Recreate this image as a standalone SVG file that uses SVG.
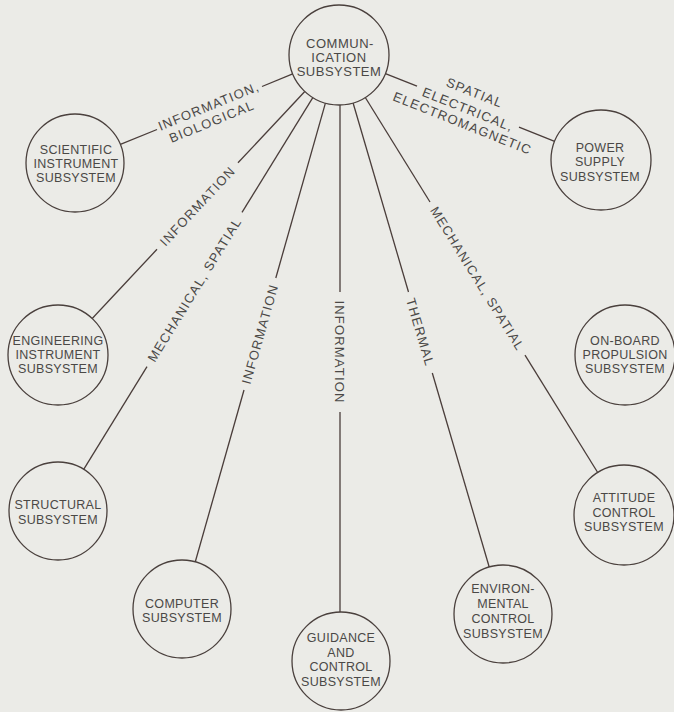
<svg xmlns="http://www.w3.org/2000/svg" width="674" height="712" viewBox="0 0 674 712">
  <style>
    .bg { fill: #ebebe7; }
    .node circle { fill: none; stroke: #4a403d; stroke-width: 1.3; }
    .node text { font-family: "Liberation Sans", Arial, sans-serif; font-size: 12.5px; letter-spacing: 0.3px; fill: #4a4846; text-anchor: middle; }
    #comm text { font-size: 13px; letter-spacing: 0.5px; }
    .conn line { stroke: #4a3d3a; stroke-width: 1.3; }
    .lbl { font-family: "Liberation Sans", Arial, sans-serif; font-size: 13px; letter-spacing: 1.2px; fill: #4a4846; text-anchor: middle; }
  </style>
  <rect class="bg" x="0" y="0" width="674" height="712"/>

  <g id="connectors" class="conn">
    <!-- scientific -->
    <line x1="292.7" y1="73.9" x2="262" y2="86.5"/>
    <line x1="157" y1="129.5" x2="120.4" y2="144.4"/>
    <!-- engineering -->
    <line x1="304.8" y1="91.5" x2="238" y2="162.8"/>
    <line x1="157" y1="249.3" x2="92.2" y2="318.5"/>
    <!-- structural -->
    <line x1="312.8" y1="97.6" x2="242" y2="212.4"/>
    <line x1="147" y1="366.6" x2="83.7" y2="469.3"/>
    <!-- computer -->
    <line x1="325.4" y1="103.1" x2="275.8" y2="278"/>
    <line x1="244" y1="390" x2="195.3" y2="561.8"/>
    <!-- guidance -->
    <line x1="340" y1="105" x2="340" y2="292"/>
    <line x1="340" y1="412" x2="340" y2="612"/>
    <!-- environmental -->
    <line x1="353.1" y1="103" x2="408.5" y2="292"/>
    <line x1="432.3" y1="373" x2="489.2" y2="567"/>
    <!-- attitude -->
    <line x1="365.3" y1="97.5" x2="430" y2="202"/>
    <line x1="525" y1="355.2" x2="597.7" y2="472.5"/>
    <!-- power -->
    <line x1="385.4" y1="73.6" x2="417" y2="86.2"/>
    <line x1="519" y1="127.1" x2="554.6" y2="141.4"/>

    <!-- labels -->
    <g transform="translate(209.4,108) rotate(-22.3)">
      <text class="lbl" x="0" y="2.6">INFORMATION,</text>
      <text class="lbl" x="-3" y="18">BIOLOGICAL</text>
    </g>
    <g transform="translate(197.5,206.1) rotate(-46.9)">
      <text class="lbl" x="0" y="4.6">INFORMATION</text>
    </g>
    <g transform="translate(194.5,289.6) rotate(-58.4)">
      <text class="lbl" x="0" y="4.6">MECHANICAL, SPATIAL</text>
    </g>
    <g transform="translate(259.9,334) rotate(-74.2)">
      <text class="lbl" x="0" y="4.6">INFORMATION</text>
    </g>
    <g transform="translate(340,352) rotate(90)">
      <text class="lbl" x="0" y="4.6">INFORMATION</text>
    </g>
    <g transform="translate(420.4,332.3) rotate(73.6)">
      <text class="lbl" x="0" y="4.6">THERMAL</text>
    </g>
    <g transform="translate(477.5,278.6) rotate(58.2)">
      <text class="lbl" x="0" y="4.6">MECHANICAL, SPATIAL</text>
    </g>
    <g transform="translate(468,106.7) rotate(21.8)">
      <text class="lbl" x="1" y="-11">SPATIAL</text>
      <text class="lbl" x="1" y="7">ELECTRICAL,</text>
      <text class="lbl" x="1" y="22">ELECTROMAGNETIC</text>
    </g>
  </g>

  <g id="comm" class="node">
    <circle cx="339" cy="55" r="50"/>
    <text x="340" y="47.5">COMMUN-</text>
    <text x="339" y="61.5">ICATION</text>
    <text x="339" y="75.5">SUBSYSTEM</text>
  </g>
  <g id="scientific" class="node">
    <circle cx="75" cy="163" r="49"/>
    <text x="76" y="153.5">SCIENTIFIC</text>
    <text x="76" y="167.5">INSTRUMENT</text>
    <text x="76" y="181.5">SUBSYSTEM</text>
  </g>
  <g id="power" class="node">
    <circle cx="601" cy="160" r="50"/>
    <text x="600" y="151.5">POWER</text>
    <text x="600" y="166">SUPPLY</text>
    <text x="600" y="180.5">SUBSYSTEM</text>
  </g>
  <g id="engineering" class="node">
    <circle cx="58" cy="355" r="50"/>
    <text x="58" y="344.5">ENGINEERING</text>
    <text x="58" y="358.5">INSTRUMENT</text>
    <text x="58" y="372.5">SUBSYSTEM</text>
  </g>
  <g id="onboard" class="node">
    <circle cx="625" cy="355" r="50"/>
    <text x="625" y="344.5">ON-BOARD</text>
    <text x="625" y="358.5">PROPULSION</text>
    <text x="625" y="372.5">SUBSYSTEM</text>
  </g>
  <g id="structural" class="node">
    <circle cx="58" cy="511" r="49"/>
    <text x="58" y="508.5">STRUCTURAL</text>
    <text x="58" y="523.5">SUBSYSTEM</text>
  </g>
  <g id="computer" class="node">
    <circle cx="182" cy="609" r="49"/>
    <text x="182" y="607.5">COMPUTER</text>
    <text x="182" y="621.5">SUBSYSTEM</text>
  </g>
  <g id="guidance" class="node">
    <circle cx="341" cy="661" r="49"/>
    <text x="341" y="642">GUIDANCE</text>
    <text x="341" y="656.5">AND</text>
    <text x="341" y="671">CONTROL</text>
    <text x="341" y="685.5">SUBSYSTEM</text>
  </g>
  <g id="environmental" class="node">
    <circle cx="503" cy="614" r="49"/>
    <text x="503" y="592.5">ENVIRON-</text>
    <text x="503" y="607.5">MENTAL</text>
    <text x="503" y="622.5">CONTROL</text>
    <text x="503" y="637.5">SUBSYSTEM</text>
  </g>
  <g id="attitude" class="node">
    <circle cx="624" cy="515" r="50"/>
    <text x="624" y="501.5">ATTITUDE</text>
    <text x="624" y="516.5">CONTROL</text>
    <text x="624" y="530.5">SUBSYSTEM</text>
  </g>
</svg>
